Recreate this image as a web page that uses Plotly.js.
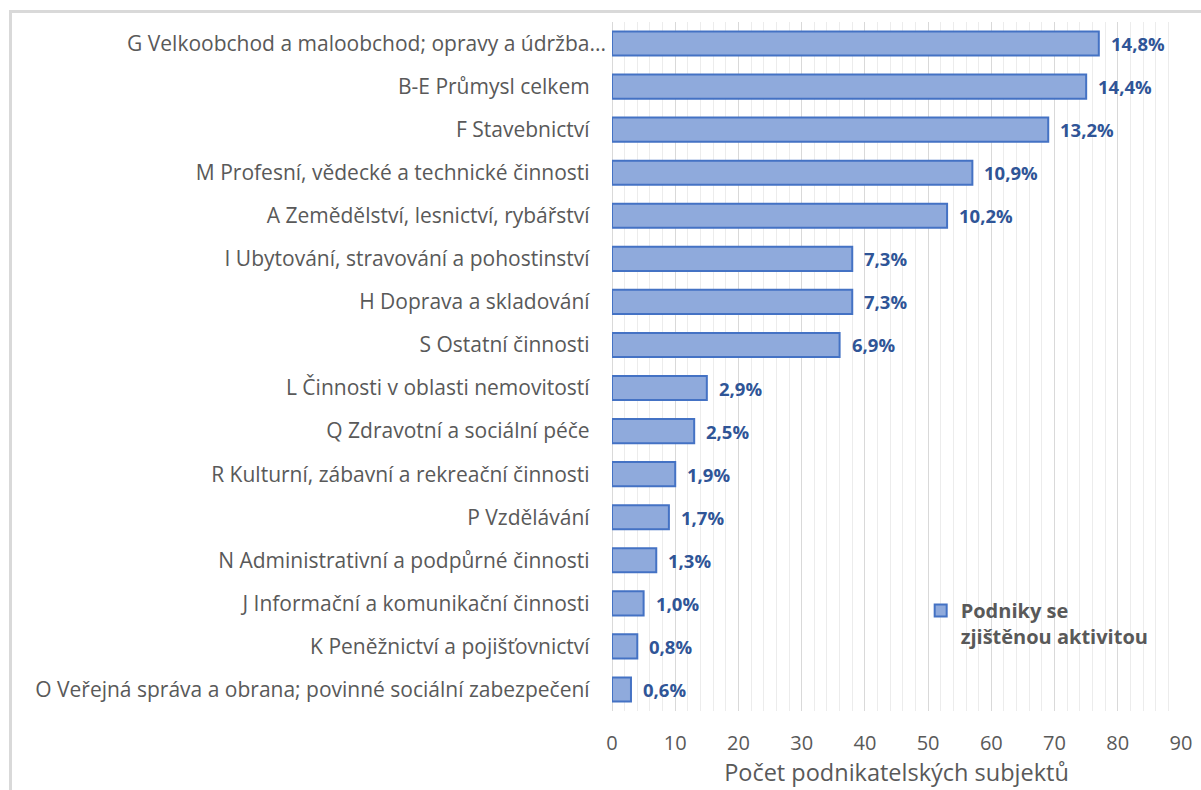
<!DOCTYPE html>
<html>
<head>
<meta charset="utf-8">
<script src="https://cdn.plot.ly/plotly-3.0.1.min.js"></script>
<style>
  body { margin: 0; overflow: hidden; background: #fff; }
  #chart { width: 1201px; height: 790px; }
  #frame {
    position: absolute; left: 9px; top: 10px; width: 1400px; height: 1000px;
    border-left: 3px solid #d9d9d9; border-top: 3px solid #d9d9d9;
    pointer-events: none;
  }
</style>
</head>
<body>
<div id="chart"></div>
<div id="frame"></div>
<script>
/* ─── Podniky podle odvětví ─── */

// shora dolů, tak jak je v grafu
const categories = [
    'G Velkoobchod a maloobchod; opravy a údržba...',
    'B-E Průmysl celkem',
    'F Stavebnictví',
    'M Profesní, vědecké a technické činnosti',
    'A Zemědělství, lesnictví, rybářství',
    'I Ubytování, stravování a pohostinství',
    'H Doprava a skladování',
    'S Ostatní činnosti',
    'L Činnosti v oblasti nemovitostí',
    'Q Zdravotní a sociální péče',
    'R Kulturní, zábavní a rekreační činnosti',
    'P Vzdělávání',
    'N Administrativní a podpůrné činnosti',
    'J Informační a komunikační činnosti',
    'K Peněžnictví a pojišťovnictví',
    'O Veřejná správa a obrana; povinné sociální zabezpečení',
];
const counts = [77, 75, 69, 57, 53, 38, 38, 36, 15, 13, 10, 9, 7, 5, 4, 3];
const shareLabels = ['14,8%', '14,4%', '13,2%', '10,9%', '10,2%', '7,3%', '7,3%', '6,9%',
                     '2,9%', '2,5%', '1,9%', '1,7%', '1,3%', '1,0%', '0,8%', '0,6%'];
const xTicks = [0, 10, 20, 30, 40, 50, 60, 70, 80, 90];

const FONT = '"Open Sans", sans-serif';
const GREY = '#595959';

// Excel nechává za nezkrácenými popisky mezeru, zkrácený "..." jde až k ose
const tickText = categories.map(c => c.endsWith('...') ? c : c + '\u00a0\u00a0\u00a0');

const trace = {
    type: 'bar',
    orientation: 'h',
    y: categories,
    x: counts,
    width: 0.56,
    marker: { color: '#8faadc', line: { color: '#4472c4', width: 2 } },
    name: 'Podniky se<br>zjištěnou aktivitou',
    hoverinfo: 'skip',
};

const labels = categories.map((c, i) => ({
    x: counts[i],
    y: c,
    text: shareLabels[i],
    xanchor: 'left',
    xshift: 10,
    showarrow: false,
    font: { family: FONT, size: 18.5, color: '#2f5597', weight: 'bold' },
}));

const layout = {
    width: 1201,
    height: 790,
    margin: { l: 612, r: 20, t: 22, b: 79 },
    paper_bgcolor: '#fff',
    plot_bgcolor: '#fff',
    font: { family: FONT, color: GREY },
    xaxis: {
        range: [0, 90],
        tickvals: xTicks,
        tickfont: { size: 20, color: GREY },
        showgrid: true,
        gridcolor: '#d9d9d9',
        gridwidth: 1,
        minor: { dtick: 2, showgrid: true, gridcolor: '#ececec', gridwidth: 1 },
        zeroline: true,
        zerolinecolor: '#d9d9d9',
        showline: false,
        ticks: '',
        ticklabelstandoff: 18,
        title: { text: 'Počet podnikatelských subjektů', font: { size: 23.5, color: GREY }, standoff: 1 },
        fixedrange: true,
    },
    yaxis: {
        autorange: 'reversed',
        tickvals: categories,
        ticktext: tickText,
        tickfont: { size: 21, color: GREY },
        ticks: '',
        ticklabelstandoff: 5,
        showgrid: false,
        fixedrange: true,
    },
    showlegend: true,
    legend: {
        x: 0.5425,
        y: 0.174,
        xanchor: 'left',
        yanchor: 'top',
        valign: 'top',
        bgcolor: 'rgba(0,0,0,0)',
        font: { size: 20, color: GREY, weight: 'bold' },
        itemwidth: 30,
    },
    annotations: labels,
};

Plotly.newPlot('chart', [trace], layout, { displayModeBar: false, staticPlot: true });
</script>
</body>
</html>
